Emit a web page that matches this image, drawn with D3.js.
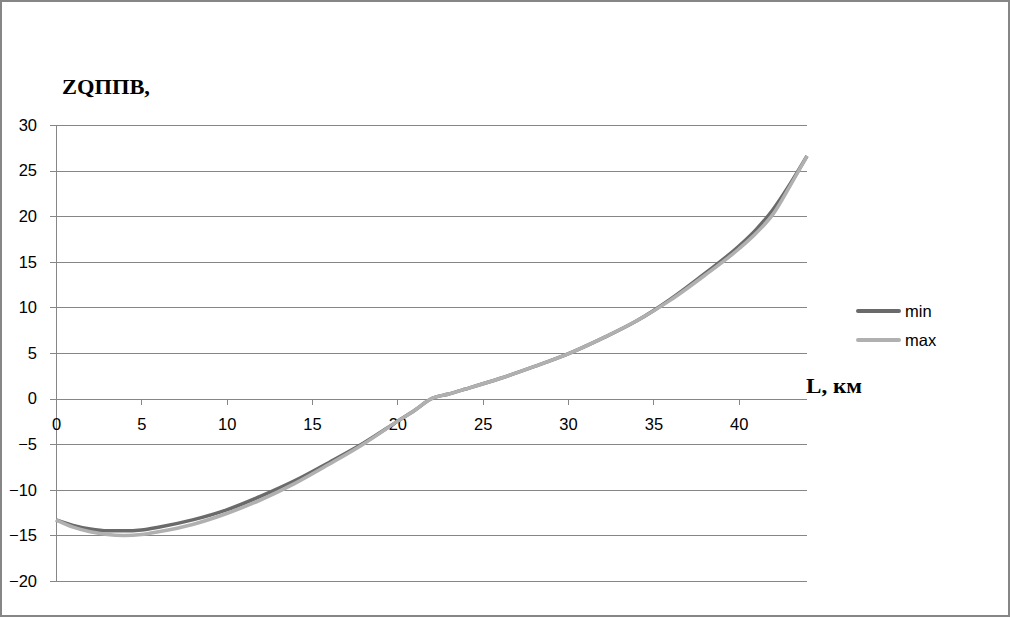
<!DOCTYPE html>
<html><head><meta charset="utf-8">
<script src="https://cdn.jsdelivr.net/npm/d3@7"></script>
<style>body{margin:0;background:#fff}svg{display:block}</style>
</head><body>
<script>
const distances = [0,1,2,3,4,5,6,8,10,12,14,16,18,20,21,22,23,24,26,28,30,32,34,36,38,40,41,42,43,44];
const minValues = [-13.3,-13.9,-14.3,-14.5,-14.5,-14.4,-14.1,-13.3,-12.2,-10.7,-9.0,-7.0,-4.9,-2.5,-1.3,0,0.5,1.05,2.2,3.5,4.9,6.6,8.5,10.9,13.7,16.7,18.5,20.7,23.5,26.6];
const maxValues = [-13.3,-14.1,-14.6,-14.9,-15.0,-14.9,-14.6,-13.8,-12.6,-11.1,-9.3,-7.2,-5.0,-2.5,-1.3,0,0.5,1.05,2.2,3.5,4.9,6.6,8.5,10.8,13.5,16.4,18.1,20.2,23.3,26.6];
const xTicks = [0,5,10,15,20,25,30,35,40];
const yTicks = [30,25,20,15,10,5,0,-5,-10,-15,-20];
const seriesNames = ["min","max"];
const seriesColors = ["#6a6a6a","#b0b0b0"];

const W = 1011, H = 618;
const svg = d3.select("body").append("svg").attr("width", W).attr("height", H);
const x = d3.scaleLinear().domain([0,44]).range([56,807]);
const y = d3.scaleLinear().domain([-20,30]).range([581,125]);
const grid = "#868686";

svg.append("rect").attr("x",1).attr("y",1).attr("width",1008).attr("height",615)
  .attr("fill","#fff").attr("stroke",grid).attr("stroke-width",2);

const yAxis = d3.axisLeft(y).tickValues(yTicks).tickSize(-(807-50)).tickPadding(13)
  .tickFormat(d3.format("d"));
const gy = svg.append("g").attr("transform","translate(50,0)").call(yAxis);
gy.select(".domain").remove();
gy.selectAll(".tick line").attr("stroke",grid).attr("shape-rendering","crispEdges");
gy.selectAll(".tick text").attr("font-family","'Liberation Sans', Arial, sans-serif")
  .attr("font-size",16.5).attr("fill","#000");

svg.append("line").attr("x1",x(0)).attr("x2",x(0)).attr("y1",y(30)).attr("y2",y(-20))
  .attr("stroke",grid).attr("shape-rendering","crispEdges");

const xAxis = d3.axisBottom(x).tickValues(xTicks).tickSize(6).tickPadding(14).tickFormat(d3.format("d"));
const gx = svg.append("g").attr("transform",`translate(0,${y(0)})`).call(xAxis);
gx.select(".domain").remove();
gx.selectAll(".tick line").attr("stroke",grid).attr("shape-rendering","crispEdges");
gx.selectAll(".tick text").attr("font-family","'Liberation Sans', Arial, sans-serif")
  .attr("font-size",16.5).attr("fill","#000");

const line = d3.line().x((d,i)=>x(distances[i])).y(d=>y(d)).curve(d3.curveMonotoneX);
[minValues, maxValues].forEach((vals,k)=>{
  svg.append("path").datum(vals).attr("d",line).attr("fill","none")
    .attr("stroke",seriesColors[k]).attr("stroke-width",3.5).attr("stroke-linejoin","round");
});

svg.append("text").attr("x",62).attr("y",94).text("ZQППВ,")
  .attr("font-family","'Liberation Serif', 'Times New Roman', serif").attr("font-weight","bold")
  .attr("font-size",21).attr("textLength",88).attr("lengthAdjust","spacingAndGlyphs");
svg.append("text").attr("x",806).attr("y",393).text("L, км")
  .attr("font-family","'Liberation Serif', 'Times New Roman', serif").attr("font-weight","bold")
  .attr("font-size",21).attr("textLength",56).attr("lengthAdjust","spacingAndGlyphs");

const legY = [311,340];
seriesNames.forEach((n,k)=>{
  svg.append("line").attr("x1",858).attr("x2",899).attr("y1",legY[k]).attr("y2",legY[k])
    .attr("stroke",seriesColors[k]).attr("stroke-width",4).attr("stroke-linecap","round");
  svg.append("text").attr("x",905).attr("y",legY[k]+6).text(n)
    .attr("font-family","'Liberation Sans', Arial, sans-serif").attr("font-size",16.5).attr("fill","#000");
});
</script>
</body></html>
